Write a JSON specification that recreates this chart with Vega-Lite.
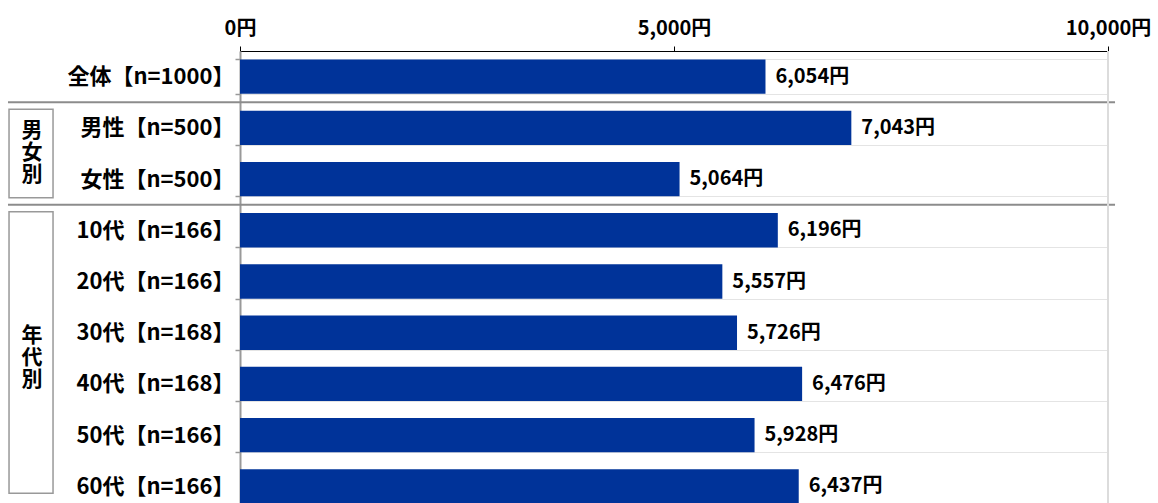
{
  "$schema": "https://vega.github.io/schema/vega-lite/v6.json",
  "width": 868,
  "height": 461,
  "autosize": {"type": "none"},
  "padding": {"left": 240, "top": 51, "right": 50, "bottom": 0},
  "background": "white",
  "config": {"font": "Noto Sans CJK JP", "view": {"stroke": null}},
  "datasets": {
    "main": [
      {"label": "全体【n=1000】", "value": 6054},
      {"label": "男性【n=500】", "value": 7043},
      {"label": "女性【n=500】", "value": 5064},
      {"label": "10代【n=166】", "value": 6196},
      {"label": "20代【n=166】", "value": 5557},
      {"label": "30代【n=168】", "value": 5726},
      {"label": "40代【n=168】", "value": 6476},
      {"label": "50代【n=166】", "value": 5928},
      {"label": "60代【n=166】", "value": 6437}
    ],
    "groups": [
      {"group": "男\n女\n別", "start": 1, "end": 3, "mid": 2},
      {"group": "年\n代\n別", "start": 3, "end": 8.77, "mid": 6}
    ],
    "seps": [{"r": 1}, {"r": 3}]
  },
  "layer": [
    {
      "data": {"name": "main"},
      "transform": [{"calculate": "format(datum.value, ',') + '円'", "as": "vtext"}],
      "encoding": {
        "y": {
          "field": "label", "type": "nominal", "sort": null,
          "scale": {"paddingInner": 0.33, "paddingOuter": 0.165},
          "axis": {
            "title": null, "domainColor": "#999", "domainWidth": 2,
            "tickColor": "#999", "tickSize": 5, "tickWidth": 1.5, "tickBand": "extent",
            "labelFontSize": 22, "labelFontWeight": "bold", "labelColor": "black",
            "labelPadding": 1, "labelLimit": 300,
            "grid": true, "gridColor": "#c8c8c8", "gridDash": [1, 1]
          }
        },
        "x": {
          "field": "value", "type": "quantitative",
          "scale": {"domain": [0, 10000], "nice": false},
          "axis": {
            "orient": "top", "values": [0, 5000, 10000], "title": null, "grid": false,
            "domainColor": "black", "tickColor": "black", "tickSize": 5,
            "labelExpr": "format(datum.value, ',') + '円'",
            "labelFontSize": 20, "labelFontWeight": "bold", "labelColor": "black",
            "labelPadding": 8, "labelFlush": false
          }
        }
      },
      "layer": [
        {"mark": {"type": "bar", "color": "#003399"}},
        {
          "mark": {"type": "text", "align": "left", "baseline": "middle", "dx": 10, "fontSize": 20, "fontWeight": "bold", "color": "black"},
          "encoding": {"text": {"field": "vtext"}}
        }
      ]
    },
    {
      "layer": [
        {
          "data": {"name": "seps"},
          "mark": {"type": "rule", "color": "#8c8c8c", "strokeWidth": 2},
          "encoding": {
            "y": {"field": "r", "type": "quantitative", "scale": {"domain": [0, 9], "nice": false, "zero": false, "reverse": true}, "axis": null},
            "x": {"datum": -2673, "type": "quantitative", "scale": {"domain": [0, 10000], "nice": false}},
            "x2": {"datum": 10081}
          }
        },
        {
          "data": {"values": [{"r0": 0, "r1": 9}]},
          "mark": {"type": "rule", "color": "#dcdcdc", "strokeWidth": 2},
          "encoding": {
            "y": {"field": "r0", "type": "quantitative", "scale": {"domain": [0, 9], "nice": false, "zero": false, "reverse": true}, "axis": null},
            "y2": {"field": "r1"},
            "x": {"datum": 10000, "type": "quantitative", "scale": {"domain": [0, 10000], "nice": false}}
          }
        },
        {
          "data": {"name": "groups"},
          "mark": {"type": "rect", "fill": "white", "stroke": "#999", "strokeWidth": 1.5, "yOffset": 7, "y2Offset": -7},
          "encoding": {
            "y": {"field": "start", "type": "quantitative", "scale": {"domain": [0, 9], "nice": false, "zero": false, "reverse": true}, "axis": null},
            "y2": {"field": "end"},
            "x": {"datum": -2661, "type": "quantitative", "scale": {"domain": [0, 10000], "nice": false}},
            "x2": {"datum": -2154}
          }
        },
        {
          "data": {"name": "groups"},
          "mark": {"type": "text", "align": "center", "baseline": "middle", "fontSize": 21, "fontWeight": "bold", "color": "black", "lineBreak": "\n", "lineHeight": 22, "dy": -22},
          "encoding": {
            "y": {"field": "mid", "type": "quantitative", "scale": {"domain": [0, 9], "nice": false, "zero": false, "reverse": true}, "axis": null},
            "x": {"datum": -2396, "type": "quantitative", "scale": {"domain": [0, 10000], "nice": false}},
            "text": {"field": "group"}
          }
        }
      ]
    }
  ],
  "resolve": {"scale": {"y": "independent"}}
}
